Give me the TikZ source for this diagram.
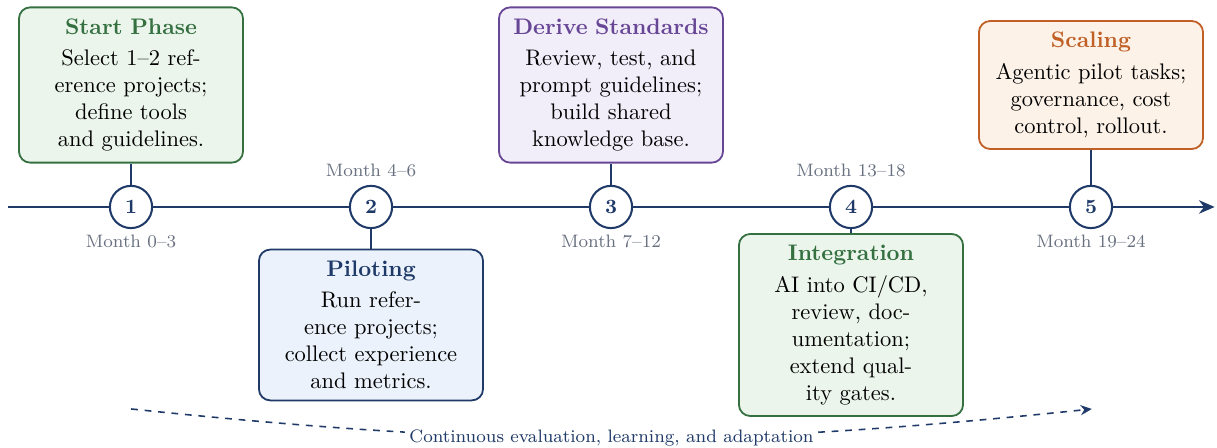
\documentclass[tikz,border=0pt]{standalone}
\usetikzlibrary{arrows.meta}

\definecolor{navy}{RGB}{31,58,104}
\definecolor{monthgray}{RGB}{104,112,128}
\definecolor{greenline}{RGB}{52,112,64}
\definecolor{greenfill}{RGB}{236,245,236}
\definecolor{blueline}{RGB}{31,58,104}
\definecolor{bluefill}{RGB}{235,242,251}
\definecolor{purpleline}{RGB}{104,70,150}
\definecolor{purplefill}{RGB}{241,237,249}
\definecolor{orangeline}{RGB}{192,96,38}
\definecolor{orangefill}{RGB}{253,242,232}

\tikzset{
	milestone/.style={circle,draw=navy,line width=0.9pt,fill=white,minimum size=0.66cm,
		inner sep=0pt,font=\small\bfseries,text=navy},
	phasebox/.style={draw=#1line,fill=#1fill,line width=0.8pt,rounded corners=5pt,
		text width=3.15cm,inner sep=5pt,align=center},
	monthlabel/.style={font=\footnotesize,text=monthgray},
	stem/.style={draw=navy,line width=0.8pt}
}

\begin{document}
\begin{tikzpicture}
	\useasboundingbox (0,0) rectangle (19.016,7.0);

	% time axis
	\coordinate (axisstart) at (0.125,3.766);
	\coordinate (axisend) at (18.98,3.766);
	\draw[navy,line width=0.9pt,-{Stealth[length=7pt,width=6pt]}] (axisstart) -- (axisend);

	\node[milestone] (m1) at (2.047,3.766) {1};
	\node[milestone] (m2) at (5.797,3.766) {2};
	\node[milestone] (m3) at (9.547,3.766) {3};
	\node[milestone] (m4) at (13.297,3.766) {4};
	\node[milestone] (m5) at (17.047,3.766) {5};

	\node[monthlabel] (t1) at (2.047,3.234) {Month 0--3};
	\node[monthlabel] (t2) at (5.797,4.344) {Month 4--6};
	\node[monthlabel] (t3) at (9.547,3.234) {Month 7--12};
	\node[monthlabel] (t4) at (13.297,4.344) {Month 13--18};
	\node[monthlabel] (t5) at (17.047,3.234) {Month 19--24};

	% phases
	\node[phasebox=green] (p1) at (2.047,5.672)
		{{\bfseries\color{greenline}Start Phase}\\[2pt]
		Select 1--2 ref-\\erence projects;\\define tools\\and guidelines.};
	\node[phasebox=blue] (p2) at (5.797,1.922)
		{{\bfseries\color{blueline}Piloting}\\[2pt]
		Run refer-\\ence projects;\\collect experience\\and metrics.};
	\node[phasebox=purple] (p3) at (9.547,5.672)
		{{\bfseries\color{purpleline}Derive Standards}\\[2pt]
		Review, test, and\\prompt guidelines;\\build shared\\knowledge base.};
	\node[phasebox=green] (p4) at (13.297,1.922)
		{{\bfseries\color{greenline}Integration}\\[2pt]
		AI into CI/CD,\\review, doc-\\umentation;\\extend qual-\\ity gates.};
	\node[phasebox=orange] (p5) at (17.047,5.672)
		{{\bfseries\color{orangeline}Scaling}\\[2pt]
		Agentic pilot tasks;\\governance, cost\\control, rollout.};

	\draw[stem] (p1.south) -- (m1.north);
	\draw[stem] (p2.north) -- (m2.south);
	\draw[stem] (p3.south) -- (m3.north);
	\draw[stem] (p4.north) -- (m4.south);
	\draw[stem] (p5.south) -- (m5.north);

	% feedback loop
	\coordinate (loopstart) at (2.05,0.61);
	\coordinate (loopend) at (17.06,0.61);
	\draw[navy,line width=0.7pt,dashed,-{Stealth[length=5pt,width=4.5pt]}] (loopstart)
		to[bend right=6] node[fill=white,inner sep=2pt,font=\footnotesize,text=navy] (looptext)
		{Continuous evaluation, learning, and adaptation} (loopend);
\end{tikzpicture}
\end{document}
